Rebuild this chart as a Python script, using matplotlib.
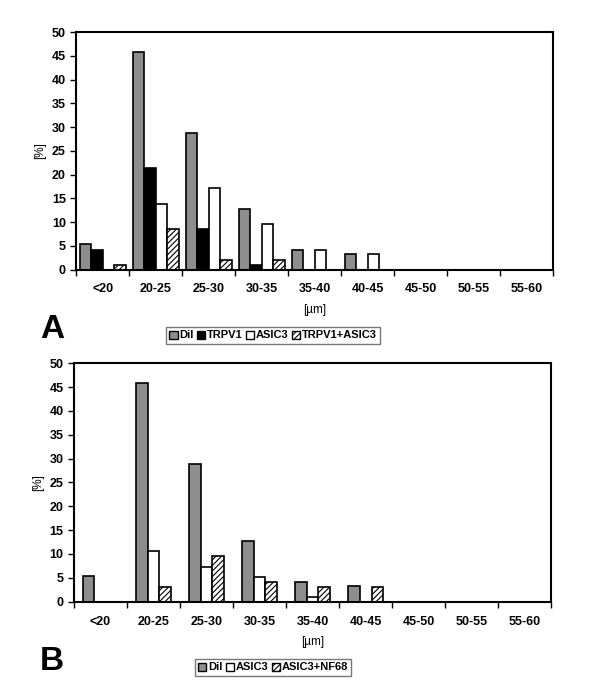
import matplotlib
matplotlib.use("Agg")
import matplotlib.pyplot as plt
import numpy as np
from matplotlib.patches import Patch

plt.rcParams['font.family'] = ['Liberation Sans', 'DejaVu Sans']
plt.rcParams['hatch.linewidth'] = 0.8

categories = ["<20", "20-25", "25-30", "30-35", "35-40", "40-45", "45-50", "50-55", "55-60"]

# panel A
a_dil = [5.3, 45.8, 28.8, 12.8, 4.2, 3.2, 0, 0, 0]
a_trpv1 = [4.2, 21.4, 8.6, 1.0, 0, 0, 0, 0, 0]
a_asic3 = [0, 13.8, 17.1, 9.6, 4.2, 3.2, 0, 0, 0]
a_both = [1.0, 8.6, 2.1, 2.1, 0, 0, 0, 0, 0]

# panel B
b_dil = [5.3, 45.8, 28.8, 12.8, 4.2, 3.2, 0, 0, 0]
b_asic3 = [0, 10.6, 7.3, 5.2, 1.0, 0, 0, 0, 0]
b_nf68 = [0, 3.1, 9.6, 4.2, 3.1, 3.1, 0, 0, 0]

GRAY = "#8e8e8e"
styles = {
    "DiI": dict(facecolor=GRAY),
    "TRPV1": dict(facecolor="black"),
    "ASIC3": dict(facecolor="white"),
    "hatch": dict(facecolor="white", hatch="//////"),
}


def draw_panel(ax, series, width):
    x = np.arange(len(categories))
    n = len(series)
    for i, (vals, st) in enumerate(series):
        offs = (i - (n - 1) / 2) * width
        ax.bar(x + offs, vals, width, edgecolor="black", linewidth=1.2, **st)
    ax.set_xlim(-0.5, len(categories) - 0.5)
    ax.set_ylim(0, 50)
    ax.set_yticks(range(0, 51, 5))
    ax.set_xticks(x)
    ax.set_xticklabels(categories, fontsize=9, fontweight="bold")
    ax.set_xticks(np.arange(-0.5, len(categories)), minor=True)
    ax.tick_params(axis="x", which="major", length=0, pad=10)
    ax.tick_params(axis="x", which="minor", length=4, width=1, direction="out")
    ax.tick_params(axis="y", length=4, width=1, direction="out", labelsize=9)
    for lab in ax.get_yticklabels():
        lab.set_fontweight("bold")
    for s in ax.spines.values():
        s.set_linewidth(1.5)
    ax.set_ylabel("[%]", fontsize=8.5, labelpad=4)
    ax.set_xlabel("[\u00b5m]", fontsize=8.5, labelpad=6)


fig = plt.figure(figsize=(6, 7), dpi=100)

axA = fig.add_axes([0.127, 0.615, 0.795, 0.339])
draw_panel(axA, [(a_dil, styles["DiI"]), (a_trpv1, styles["TRPV1"]),
                 (a_asic3, styles["ASIC3"]), (a_both, styles["hatch"])], 0.217)

axB = fig.add_axes([0.123, 0.1405, 0.796, 0.3405])
draw_panel(axB, [(b_dil, styles["DiI"]), (b_asic3, styles["ASIC3"]),
                 (b_nf68, styles["hatch"])], 0.22)


def make_legend(labels, keys, y):
    handles = [Patch(edgecolor="black", linewidth=1, **styles[k]) for k in keys]
    leg = fig.legend(handles, labels, loc="center", bbox_to_anchor=(0.455, y),
                     ncol=len(labels), frameon=True, fancybox=False,
                     handlelength=0.75, handleheight=0.75, handletextpad=0.15,
                     columnspacing=0.3, borderpad=0.3, borderaxespad=0,
                     prop=dict(size=8, weight="bold"))
    leg.get_frame().set_edgecolor("#555555")
    leg.get_frame().set_linewidth(1)


make_legend(["Dil", "TRPV1", "ASIC3", "TRPV1+ASIC3"], ["DiI", "TRPV1", "ASIC3", "hatch"], 1 - 335.5 / 700)
make_legend(["Dil", "ASIC3", "ASIC3+NF68"], ["DiI", "ASIC3", "hatch"], 1 - 667.5 / 700)

fig.text(52 / 600, 1 - 330 / 700, "A", fontsize=24, fontweight="bold", ha="center", va="center")
fig.text(52 / 600, 1 - 662 / 700, "B", fontsize=24, fontweight="bold", ha="center", va="center")

fig.savefig("out.png", dpi=100)
plt.close(fig)
